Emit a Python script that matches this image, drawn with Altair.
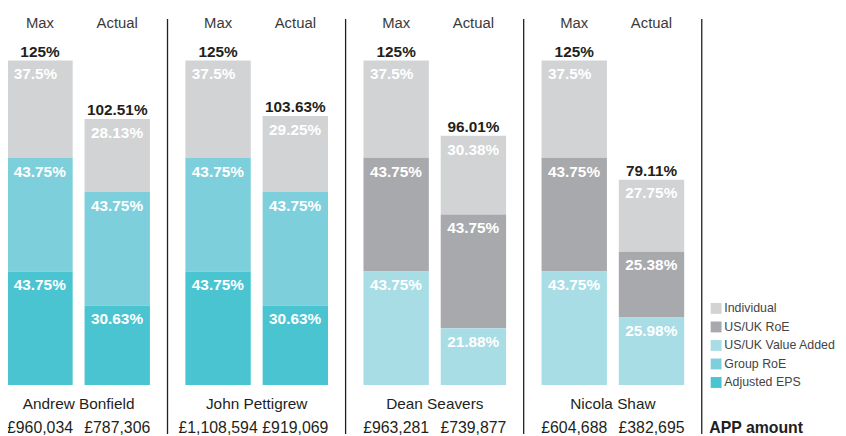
import altair as alt
import pandas as pd

persons = ["Andrew Bonfield", "John Pettigrew", "Dean Seavers", "Nicola Shaw"]
bars = ["Max", "Actual"]
categories = ["Individual", "US/UK RoE", "US/UK Value Added", "Group RoE", "Adjusted EPS"]
colors = ["#d1d3d4", "#a7a9ac", "#a8dde6", "#7dd0db", "#4bc4d2"]

individual_max = [37.5, 37.5, 37.5, 37.5]
individual_actual = [28.13, 29.25, 30.38, 27.75]
usuk_roe_max = [0, 0, 43.75, 43.75]
usuk_roe_actual = [0, 0, 43.75, 25.38]
usuk_va_max = [0, 0, 43.75, 43.75]
usuk_va_actual = [0, 0, 21.88, 25.98]
group_roe_max = [43.75, 43.75, 0, 0]
group_roe_actual = [43.75, 43.75, 0, 0]
eps_max = [43.75, 43.75, 0, 0]
eps_actual = [30.63, 30.63, 0, 0]

amount_max = ["£960,034", "£1,108,594", "£963,281", "£604,688"]
amount_actual = ["£787,306", "£919,069", "£739,877", "£382,695"]

series = {
    "Individual": (individual_max, individual_actual),
    "US/UK RoE": (usuk_roe_max, usuk_roe_actual),
    "US/UK Value Added": (usuk_va_max, usuk_va_actual),
    "Group RoE": (group_roe_max, group_roe_actual),
    "Adjusted EPS": (eps_max, eps_actual),
}

rows = []
for cat, (mx, ac) in series.items():
    for i, p in enumerate(persons):
        for b, vals in zip(bars, (mx, ac)):
            v = vals[i]
            if v > 0:
                rows.append({
                    "person": p, "bar": b, "category": cat, "value": v,
                    "order": len(categories) - 1 - categories.index(cat),
                    "label": f"{v:g}%",
                })
df = pd.DataFrame(rows)

tot_rows = []
for i, p in enumerate(persons):
    for b, amt in zip(bars, (amount_max[i], amount_actual[i])):
        t = round(df[(df.person == p) & (df.bar == b)].value.sum(), 2)
        tot_rows.append({"person": p, "bar": b, "total": t,
                         "tlabel": f"{t:g}%", "amount": amt})
tdf = pd.DataFrame(tot_rows)
pdf = pd.DataFrame({"person": persons})

FONT = "Liberation Sans"
DARK = "#231f20"

xscale = alt.Scale(range=[-0.7, 682.7], paddingInner=0.1991, paddingOuter=0, round=False)
xenc = alt.X("person:N", sort=persons, axis=None, scale=xscale)
xoff = alt.XOffset("bar:N", sort=bars,
                   scale=alt.Scale(paddingInner=0.1538, paddingOuter=0))
yscale = alt.Scale(domain=[0, 125], range=[378.5, 51])

base = alt.Chart(df).transform_stack(
    stack="value", groupby=["person", "bar"], as_=["v0", "v1"],
    sort=[alt.SortField("order", order="ascending")]
)

bars_layer = base.mark_bar().encode(
    x=xenc, xOffset=xoff,
    y=alt.Y("v0:Q", scale=yscale, axis=None),
    y2="v1:Q",
    color=alt.Color("category:N", scale=alt.Scale(domain=categories, range=colors),
                    legend=alt.Legend(orient="none", legendX=708.7, legendY=295,
                                      title=None, symbolType="square", symbolSize=121,
                                      symbolStrokeWidth=0, symbolOpacity=1,
                                      labelFont=FONT, labelFontSize=12.5,
                                      labelColor="#444444", labelOffset=2,
                                      rowPadding=5.7)),
)

seg_labels = base.mark_text(align="left", baseline="alphabetic", dx=-26.5, dy=19,
                            font=FONT, fontSize=15.5, fontWeight="bold",
                            color="white").encode(
    x=xenc, xOffset=xoff,
    y=alt.Y("v1:Q", scale=yscale, axis=None),
    text="label:N",
)

totals = alt.Chart(tdf).mark_text(align="center", baseline="alphabetic", dy=-4,
                                  font=FONT, fontSize=15.5, fontWeight="bold",
                                  color=DARK).encode(
    x=xenc, xOffset=xoff,
    y=alt.Y("total:Q", scale=yscale, axis=None),
    text="tlabel:N",
)

headers = alt.Chart(tdf).mark_text(align="center", baseline="alphabetic",
                                   font=FONT, fontSize=15, color="#3a3a3a").encode(
    x=xenc, xOffset=xoff, y=alt.value(18.5), text="bar:N",
)

amounts = alt.Chart(tdf).mark_text(align="center", baseline="alphabetic",
                                   font=FONT, fontSize=16, color=DARK).encode(
    x=xenc, xOffset=xoff, y=alt.value(427), text="amount:N",
)

names = alt.Chart(pdf).mark_text(align="center", baseline="alphabetic",
                                 font=FONT, fontSize=15.5, color=DARK).encode(
    x=xenc, y=alt.value(402.7), text="person:N",
)

seps = alt.Chart(pdf).mark_rule(color=DARK, strokeWidth=1.3, xOffset=17.75).encode(
    x=alt.X("person:N", sort=persons, axis=None, bandPosition=1, scale=xscale),
    y=alt.value(9), y2=alt.value(428),
)

app = alt.Chart(pdf.head(1)).mark_text(align="left", baseline="alphabetic",
                                       font=FONT, fontSize=16, fontWeight="bold",
                                       color=DARK, text="APP amount").encode(
    x=alt.value(708), y=alt.value(427),
)

chart = alt.layer(bars_layer, seg_labels, totals, headers, amounts, names, seps, app).properties(
    width=838, height=428, padding=0,
    autosize=alt.AutoSizeParams(type="none"),
    background="white",
).configure_view(stroke=None)

chart.save("out.html", embed_options={"renderer": "svg", "actions": False})
